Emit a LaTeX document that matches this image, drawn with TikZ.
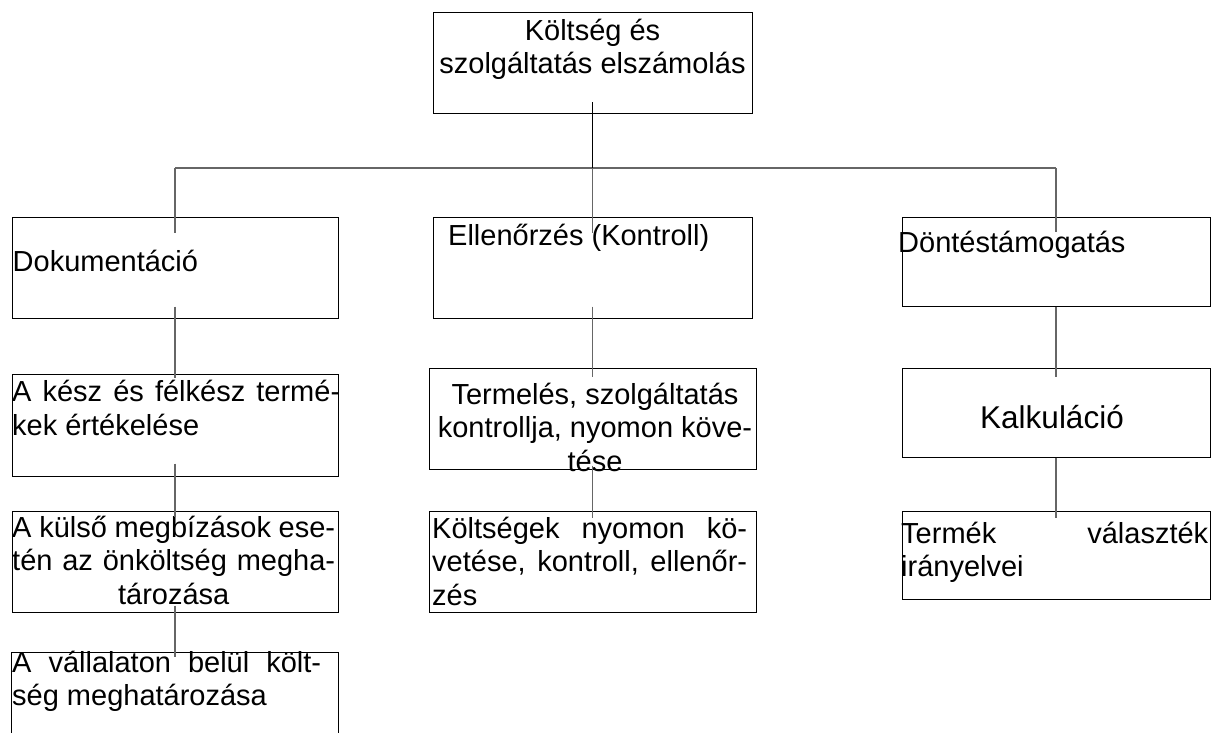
\documentclass[tikz,border=0pt]{standalone}
\usepackage{fontspec}
\setmainfont{Liberation Sans}
\usetikzlibrary{calc}
\tikzset{
  box/.style={draw=black, line width=1pt, inner sep=0pt, minimum width=#1},
  openbox/.style={inner sep=0pt, minimum width=#1},
  txt/.style={inner sep=0pt, font=\fontsize{29}{33.5}\selectfont},
  bigtxt/.style={inner sep=0pt, font=\fontsize{31.5}{36}\selectfont},
  link/.style={draw=black!60, line width=1.3pt},
  toplink/.style={draw=black, line width=1.4pt}
}
\begin{document}
\begin{tikzpicture}[x=1pt,y=-1pt]
\useasboundingbox (0,0) rectangle (1216,733);
% boxes
\node[box=319pt, minimum height=101pt] (B0) at (592.5,63.5) {};
\node[box=326pt, minimum height=101pt] (B1) at (175,267.5) {};
\node[box=319pt, minimum height=101pt] (B2) at (592.5,267.5) {};
\node[box=308pt, minimum height=89pt] (B3) at (1056,261.5) {};
\node[box=326pt, minimum height=102pt] (B4) at (175,425) {};
\node[box=327pt, minimum height=101pt] (B5) at (592.5,418.5) {};
\node[box=308pt, minimum height=89pt] (B6) at (1056,412.5) {};
\node[box=326pt, minimum height=101pt] (B7) at (175,561.5) {};
\node[box=327pt, minimum height=101pt] (B8) at (592.5,561.5) {};
\node[box=308pt, minimum height=88pt] (B9) at (1056,555) {};
\node[openbox=326pt, minimum height=80pt] (B10) at (175,693) {};
\draw[black, line width=1pt] (B10.south west) -- (B10.north west) -- (B10.north east) -- (B10.south east);
% texts
\node[txt, anchor=north, align=center] (T0) at (592.5,16.5)
  {\strut Költség és\\\strut szolgáltatás elszámolás};
\node[txt, anchor=base west] (T1) at (12.5,271) {Dokumentáció};
\node[txt, anchor=base west] (T2) at (448,245) {Ellenőrzés (Kontroll)};
\node[txt, anchor=base west] (T3) at (898,252) {Döntéstámogatás};
\node[txt, anchor=north west, align=left] (T4) at (12,378)
  {\strut\makebox[328pt][s]{A kész és félkész termé-}\\\strut kek értékelése};
\node[txt, anchor=north west, align=center] (T5) at (12,513.5)
  {\strut\makebox[323pt][s]{A külső megbízások ese-}\\\strut\makebox[323pt][s]{tén az önköltség megha-}\\\strut tározása};
\node[txt, anchor=north west, align=left] (T6) at (12,648.5)
  {\strut\makebox[309pt][s]{A vállalaton belül költ-}\\\strut ség meghatározása};
\node[txt, anchor=north, align=center] (T7) at (595,380.5)
  {\strut Termelés, szolgáltatás\\\strut kontrollja, nyomon köve-\\\strut tése};
\node[txt, anchor=north west, align=left] (T8) at (432,514.5)
  {\strut\makebox[315pt][s]{Költségek nyomon kö-}\\\strut\makebox[315pt][s]{vetése, kontroll, ellenőr-}\\\strut zés};
\node[bigtxt, anchor=base] (T9) at (1052,428) {Kalkuláció};
\node[txt, anchor=north west, align=left] (T10) at (901,519.5)
  {\strut\makebox[307pt][s]{Termék választék}\\\strut irányelvei};
% connectors
\coordinate (bus) at (592.5,168);
\coordinate (busL) at (175,168);
\coordinate (busR) at (1056,168);
\draw[link] (busL) -- (busR);
\draw[toplink] ($(B0.south)+(0,-12)$) -- (bus);
\draw[link] (bus) -- ($(B2.north)+(0,16)$);
\draw[link] (busL) -- ($(B1.north)+(0,16)$);
\draw[link] (busR) -- ($(B3.north)+(0,15)$);
\draw[link] ($(B1.south)+(0,-12)$) -- ($(B4.north)+(0,4)$);
\draw[link] ($(B4.south)+(0,-13)$) -- ($(B7.north)+(0,6)$);
\draw[link] ($(B7.south)+(0,-7)$) -- ($(B10.north)+(0,4)$);
\draw[link] ($(B2.south)+(0,-12)$) -- ($(B5.north)+(0,9)$);
\draw[link] ($(B5.south)+(0,-4)$) -- ($(B8.north)+(0,7)$);
\draw[link] (B3.south) -- ($(B6.north)+(0,9)$);
\draw[link] (B6.south) -- ($(B9.north)+(0,7)$);
\end{tikzpicture}
\end{document}
